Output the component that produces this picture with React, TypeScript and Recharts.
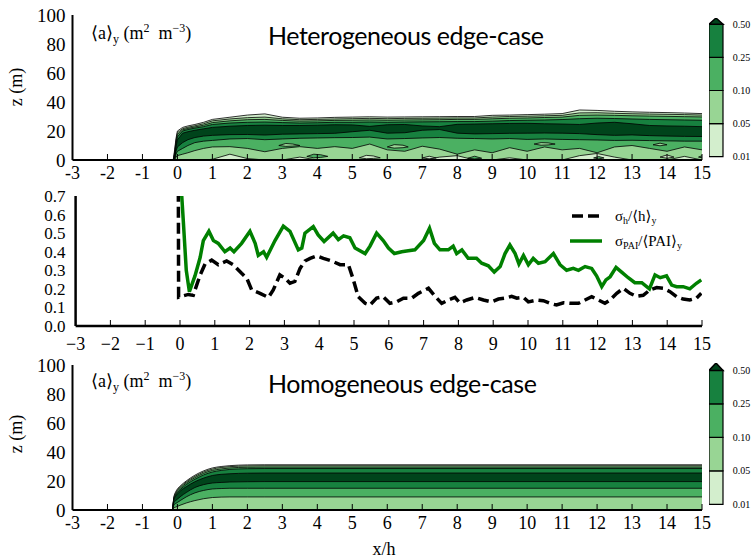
import React from 'react'
import { ComposedChart, Area, Line, XAxis, YAxis, BarChart, Bar } from 'recharts'

// shared axis values
const xTicks = [-3, -2, -1, 0, 1, 2, 3, 4, 5, 6, 7, 8, 9, 10, 11, 12, 13, 14, 15]
const zTicks = [0, 20, 40, 60, 80, 100]
const ratioTicks = [0, 0.1, 0.2, 0.3, 0.4, 0.5, 0.6, 0.7]
const levelLabels = ['0.01', '0.05', '0.10', '0.25', '0.50']
const GREENS = ['#d3eecd', '#98d594', '#4bb062', '#17813f', '#00441b']

// heterogeneous canopy: contour boundaries (m) along x/h
const hetX = [-0.12, -0.08, -0.04, 0, 0.15, 0.3, 0.5, 0.75, 1, 1.5, 2, 2.5, 3, 3.5, 4, 4.5, 5, 5.5, 6, 6.5, 7, 7.5, 8, 8.5, 9, 9.5, 10, 10.5, 11, 11.5, 12, 12.5, 13, 13.5, 14, 14.5, 15]
const hetTop1 = [0, 7, 15, 20, 22.5, 23.5, 24.5, 26, 28, 29.5, 31, 31.8, 29.5, 28.8, 29, 29.4, 29.6, 29.8, 29.6, 29.7, 29.8, 29.9, 30, 30, 30.8, 31, 31.3, 31.6, 32, 34.5, 34.2, 33.6, 33.2, 32.9, 32.7, 32.4, 32]
const hetTop2 = [0, 5.5, 13.5, 18.8, 21.6, 22.6, 23.6, 25, 27, 28.3, 29.2, 29.6, 28.4, 27.8, 28, 28.3, 28.5, 28.7, 28.5, 28.7, 28.8, 28.9, 29, 29, 29.6, 30, 30.2, 30.5, 30.8, 32.5, 32.6, 32.2, 31.9, 31.7, 31.5, 31.3, 31]
const hetTop3 = [0, 4, 12, 17.5, 20.8, 21.8, 22.8, 24, 25.8, 27, 27.8, 28, 27.3, 26.8, 27, 27.3, 27.4, 27.6, 27.4, 27.6, 27.7, 27.8, 28, 28, 28.4, 28.8, 29, 29.3, 29.6, 30.8, 31, 30.8, 30.5, 30.3, 30.1, 29.9, 29.7]
const hetTop4 = [0, 3, 10.5, 16, 20, 21, 22, 23, 24.5, 25.5, 26, 26.2, 25.8, 25.5, 25.7, 26, 26, 26.2, 26, 26.2, 26.3, 26.4, 26.5, 26.5, 26.8, 27.2, 27.4, 27.6, 27.9, 28.5, 28.8, 28.6, 28.3, 28, 27.8, 27.6, 27.4]
const hetTop5 = [0, 2, 9, 14, 18.5, 19.5, 20.5, 21.5, 22.5, 23.3, 23.8, 24, 23.8, 23.8, 24, 24.3, 24.2, 23.2, 24.3, 24.5, 23.5, 23, 24.6, 24.8, 25, 25.2, 25.3, 25, 24.8, 24.5, 25.5, 26, 25, 23.8, 23.5, 23.3, 23]
const hetBot5 = [0, 1, 6, 9, 12, 14, 15.5, 16.5, 17, 17.5, 17.6, 17.2, 17.8, 18, 18.2, 18.4, 19.5, 20.5, 18.5, 18.8, 20.5, 21, 18.5, 18, 18.2, 18.4, 18.5, 18.6, 18.5, 18.2, 17.5, 17, 17.3, 16.8, 16.5, 16.3, 16.2]
const hetBot4 = [0, 0.5, 4, 6, 8, 10, 12, 13, 13.5, 14.5, 14.8, 14, 14.5, 15, 15.2, 15.4, 15.5, 15.8, 14.5, 14.8, 15.2, 15.5, 15, 14.8, 14.5, 14.8, 14.2, 14.5, 14.2, 14, 13.8, 13.5, 13.6, 13.4, 13.2, 13, 13]
const hetBot3 = [0, 0.3, 2, 3, 4, 5, 6.5, 8, 9, 9.2, 8, 5.7, 8, 9.2, 8, 9.2, 8, 11, 7, 6, 9.5, 7.5, 4, 7, 5, 8.5, 6, 9, 7, 8, 5, 9, 10, 8, 6, 9, 7]
const hetBot2 = [0, 0, 0, 0, 0, 0, 0, 0, 0.5, 4, 1, 0, 0, 2, 0, 0, 0, 0, 0, 0, 0, 2, 3, 0, 0, 1.5, 0, 0, 0, 3, 4.5, 2, 0, 0, 0, 2.5, 0]

// small closed patches inside the heterogeneous canopy: [x, lower z, upper z], null = gap
const patchesLight: ([number, number, number] | null)[] = [
  [2.9, 10, 10], [3.1, 9.4, 11.4], [3.3, 9.6, 11], [3.5, 10, 10], null,
  [6.0, 9, 9], [6.2, 8.2, 10.6], [6.45, 8.5, 10.2], [6.6, 9, 9], null,
  [10.2, 11, 11], [10.4, 10.2, 12], [10.6, 10.4, 11.8], [10.8, 11, 11], null,
  [13.6, 10.5, 10.5], [13.8, 9.8, 11.6], [14.0, 10.5, 10.5],
]
const patchesMid: ([number, number, number] | null)[] = [
  [3.7, 2.5, 2.5], [3.9, 1.5, 4], [4.1, 1.8, 3.6], [4.3, 2.5, 2.5], null,
  [8.3, 1.2, 1.2], [8.5, 0.8, 2.6], [8.7, 1.2, 1.2], null,
  [11.9, 1.4, 1.4], [12.05, 0.8, 2.4], [12.2, 1.4, 1.4], null,
  [14.9, 2, 2], [15, 1.5, 3],
]
const patchesPale: ([number, number, number] | null)[] = [
  [5.2, 1.5, 1.5], [5.4, 0.9, 3.2], [5.6, 1.1, 2.8], [5.8, 1.5, 1.5], null,
  [7.0, 1.4, 1.4], [7.2, 0.8, 2.6], [7.4, 1.4, 1.4], null,
  [13.8, 2, 2], [14.0, 1.2, 3.5], [14.2, 2, 2],
]

// homogeneous canopy
const homX = [-0.14, -0.1, -0.05, 0, 0.1, 0.25, 0.5, 0.75, 1, 1.25, 1.5, 2, 2.5, 15]
const homTop1 = [0, 9, 12.5, 14.5, 17, 20, 24, 27, 29, 30, 30.6, 31.1, 31.2, 31.2]
const homTop2 = [0, 8.5, 11.8, 13.8, 16.3, 19.3, 23.2, 26.2, 28.2, 29.3, 29.9, 30.4, 30.5, 30.5]
const homTop3 = [0, 8, 11, 13, 15.5, 18.5, 22.3, 25.3, 27.3, 28.3, 29, 29.5, 29.6, 29.6]
const homTop4 = [0, 7.5, 10.2, 12, 14.5, 17.5, 21.2, 24.2, 26.2, 27.3, 28, 28.5, 28.6, 28.6]
const homTop5 = [0, 7, 9.5, 11, 13.5, 16, 19.5, 22, 23.8, 24.6, 25, 25.4, 25.5, 25.5]
const homBot5 = [0, 5, 6.5, 7.5, 9.5, 12, 15.5, 17.5, 18.6, 19, 19.3, 19.5, 19.6, 19.6]
const homBot4 = [0, 3.5, 4.5, 5.2, 6.8, 9, 11.8, 13.5, 14.5, 14.8, 15, 15, 15, 15]
const homBot3 = [0, 1.5, 2, 2.5, 3.5, 4.8, 6.5, 7.8, 8.6, 8.9, 9, 9, 9, 9]
const homBot2 = [0, 0, 0, 0, 0, 0, 0, 0, 0, 0, 0, 0, 0, 0]

// sigma_h / <h>_y
const hX = [-0.05, -0.04, 0.24, 0.38, 0.57, 0.72, 0.91, 1.1, 1.34, 1.53, 1.77, 1.92, 2.06, 2.3, 2.54, 2.68, 2.87, 3.02, 3.16, 3.3, 3.45, 3.59, 3.74, 3.93, 4.12, 4.36, 4.6, 4.84, 4.98, 5.12, 5.32, 5.46, 5.65, 5.84, 6.03, 6.22, 6.42, 6.66, 6.85, 7.14, 7.33, 7.52, 7.71, 7.9, 8.04, 8.24, 8.48, 8.72, 8.95, 9.15, 9.34, 9.53, 9.68, 9.87, 10.01, 10.25, 10.44, 10.63, 10.82, 11.02, 11.21, 11.45, 11.64, 11.83, 12.02, 12.21, 12.36, 12.55, 12.74, 12.93, 13.12, 13.31, 13.5, 13.7, 13.89, 14.08, 14.27, 14.46, 14.65, 14.84, 14.98]
const hY = [0.9, 0.155, 0.17, 0.165, 0.27, 0.334, 0.355, 0.33, 0.35, 0.33, 0.284, 0.257, 0.194, 0.176, 0.154, 0.194, 0.275, 0.257, 0.23, 0.24, 0.31, 0.35, 0.364, 0.377, 0.364, 0.35, 0.33, 0.33, 0.25, 0.158, 0.122, 0.113, 0.15, 0.158, 0.122, 0.13, 0.15, 0.15, 0.176, 0.203, 0.16, 0.122, 0.14, 0.154, 0.125, 0.14, 0.154, 0.14, 0.13, 0.145, 0.15, 0.16, 0.15, 0.154, 0.13, 0.14, 0.136, 0.122, 0.113, 0.125, 0.122, 0.122, 0.14, 0.158, 0.14, 0.122, 0.14, 0.176, 0.203, 0.176, 0.16, 0.165, 0.194, 0.207, 0.203, 0.185, 0.158, 0.145, 0.14, 0.15, 0.176]

// sigma_PAI / <PAI>_y
const pX = [0.0, 0.1, 0.18, 0.27, 0.43, 0.58, 0.67, 0.83, 0.96, 1.1, 1.29, 1.44, 1.55, 1.77, 2.01, 2.16, 2.25, 2.4, 2.49, 2.73, 2.97, 3.16, 3.4, 3.5, 3.59, 3.83, 3.97, 4.14, 4.4, 4.55, 4.7, 4.88, 5.03, 5.32, 5.46, 5.65, 5.84, 5.99, 6.16, 6.37, 6.56, 6.75, 7.0, 7.17, 7.31, 7.47, 7.71, 7.85, 7.95, 8.1, 8.28, 8.52, 8.67, 8.86, 9.03, 9.2, 9.34, 9.48, 9.63, 9.74, 9.87, 10.01, 10.15, 10.3, 10.49, 10.73, 10.92, 11.11, 11.3, 11.45, 11.64, 11.83, 11.97, 12.12, 12.24, 12.36, 12.53, 12.69, 12.88, 13.07, 13.27, 13.49, 13.65, 13.8, 13.98, 14.13, 14.27, 14.46, 14.65, 14.84, 14.98]
const pY = [0.85, 0.55, 0.3, 0.185, 0.27, 0.37, 0.46, 0.51, 0.46, 0.445, 0.4, 0.42, 0.4, 0.445, 0.51, 0.445, 0.38, 0.4, 0.37, 0.46, 0.538, 0.51, 0.41, 0.42, 0.5, 0.535, 0.49, 0.455, 0.5, 0.465, 0.485, 0.475, 0.42, 0.39, 0.43, 0.5, 0.46, 0.42, 0.39, 0.4, 0.405, 0.41, 0.46, 0.526, 0.445, 0.41, 0.41, 0.43, 0.39, 0.41, 0.365, 0.365, 0.338, 0.324, 0.29, 0.32, 0.39, 0.436, 0.39, 0.334, 0.38, 0.33, 0.364, 0.338, 0.346, 0.39, 0.33, 0.3, 0.31, 0.3, 0.32, 0.31, 0.27, 0.212, 0.248, 0.265, 0.316, 0.29, 0.26, 0.233, 0.233, 0.2, 0.275, 0.26, 0.27, 0.22, 0.212, 0.212, 0.2, 0.23, 0.248]

const SERIF = '"Liberation Serif", "DejaVu Serif", serif'
const SANS = 'Lato, "Open Sans", sans-serif'
const frame = { stroke: '#000', strokeWidth: 2 }
const tickStyle = { stroke: '#000', strokeWidth: 1 }

const hetRows = hetX.map((x, i) => ({
  x, t1: hetTop1[i], t2: hetTop2[i], t3: hetTop3[i], t4: hetTop4[i], t5: hetTop5[i],
  b2: hetBot2[i], b3: hetBot3[i], b4: hetBot4[i], b5: hetBot5[i],
}))
const homRows = homX.map((x, i) => ({
  x, t1: homTop1[i], t2: homTop2[i], t3: homTop3[i], t4: homTop4[i], t5: homTop5[i],
  b2: homBot2[i], b3: homBot3[i], b4: homBot4[i], b5: homBot5[i],
}))
const toPatchRows = (p: ([number, number, number] | null)[]) =>
  p.map((e, i) => (e ? { x: e[0], lo: e[1], hi: e[2] } : { x: (p[i - 1] as number[])[0] + 0.05, lo: null, hi: null }))
const hetPatches = [
  { rows: toPatchRows(patchesLight), fill: GREENS[1] },
  { rows: toPatchRows(patchesMid), fill: GREENS[2] },
  { rows: toPatchRows(patchesPale), fill: GREENS[0] },
]
const hRows = hX.map((x, i) => ({ x, y: hY[i] }))
const pRows = pX.map((x, i) => ({ x, y: pY[i] }))

// [lower, upper] keys for each filled band, painted outside-in
const bands: [string | null, string][] = [
  [null, 't1'], ['b2', 't2'], ['b3', 't3'], ['b4', 't4'], ['b5', 't5'],
]

function ContourChart({ rows, curve, patches = [] }: { rows: any[]; curve: 'linear' | 'monotone'; patches?: any[] }) {
  return (
    <ComposedChart width={753} height={200} data={rows} margin={{ top: 15, right: 51, bottom: 0, left: 0 }}>
      <XAxis dataKey="x" type="number" domain={[-3, 15]} ticks={xTicks} interval={0} allowDataOverflow
        height={40} tickSize={-6} tickMargin={12} axisLine={frame} tickLine={tickStyle}
        tick={{ fill: '#000', fontSize: 18, fontFamily: SERIF }} />
      <XAxis xAxisId="top" orientation="top" type="number" domain={[-3, 15]} ticks={xTicks} interval={0}
        allowDataOverflow height={0} tickSize={-6} tick={false} axisLine={frame} tickLine={tickStyle} />
      <YAxis type="number" domain={[0, 100]} ticks={zTicks} interval={0} allowDataOverflow width={72.5}
        tickLine={false} tickSize={0} tickMargin={7} axisLine={frame}
        tick={{ fill: '#000', fontSize: 19, fontFamily: SERIF }} />
      <YAxis yAxisId="right" orientation="right" type="number" domain={[0, 100]} ticks={[20, 40, 60, 80]}
        interval={0} width={0} tickSize={-6} tick={false} axisLine={frame} tickLine={tickStyle} />
      {bands.map(([lo, hi], i) => (
        <Area key={hi} type={curve} dataKey={(d: any) => [lo ? d[lo] : 0, d[hi]]}
          fill={GREENS[i]} fillOpacity={1} stroke="#000" strokeWidth={0.8}
          dot={false} activeDot={false} isAnimationActive={false} />
      ))}
      {patches.map((p, i) => (
        <Area key={`p${i}`} data={p.rows} type="linear" connectNulls={false}
          dataKey={(d: any) => (d.lo == null ? null : [d.lo, d.hi])}
          fill={p.fill} fillOpacity={1} stroke="#000" strokeWidth={0.8}
          dot={false} activeDot={false} isAnimationActive={false} />
      ))}
    </ComposedChart>
  )
}

function Triangle(props: any) {
  const { x, y, width, height, fill } = props
  return <path d={`M${x},${y + height}L${x + width / 2},${y}L${x + width},${y + height}Z`} fill={fill} stroke="#000" strokeWidth={1.5} />
}

function ColorBar({ height, ext }: { height: number; ext: number }) {
  const row = [{ name: 'cb', s0: 1, s1: 1, s2: 1, s3: 1, ext }]
  return (
    <BarChart width={53.7} height={height + 8} data={row} margin={{ top: 0, right: 0, bottom: 8, left: 0 }} barCategoryGap={0}>
      <XAxis dataKey="name" hide />
      <YAxis orientation="right" type="number" domain={[0, 4 + ext]} ticks={[0, 1, 2, 3, 4]} interval={0}
        width={40} axisLine={false} tickLine={false} tickSize={0} tickMargin={10}
        tickFormatter={(v: number) => levelLabels[v]} tick={{ fill: '#000', fontSize: 10, fontFamily: SERIF }} />
      {[0, 1, 2, 3].map((i) => (
        <Bar key={i} dataKey={`s${i}`} stackId="cb" fill={GREENS[i]} stroke="#000" strokeWidth={1.2} isAnimationActive={false} />
      ))}
      <Bar dataKey="ext" stackId="cb" fill={GREENS[4]} shape={Triangle} isAnimationActive={false} />
    </BarChart>
  )
}

function RatioChart() {
  const thick = { stroke: '#000', strokeWidth: 2.5 }
  return (
    <ComposedChart width={753} height={180} margin={{ top: 16, right: 51, bottom: 0, left: 0 }}>
      <XAxis dataKey="x" type="number" domain={[-3, 15]} ticks={xTicks} interval={0} allowDataOverflow
        height={34} tickSize={-6} tickMargin={17} axisLine={thick} tickLine={tickStyle}
        tickFormatter={(v: number) => String(v).replace('-', '\u2212')}
        tick={{ fill: '#000', fontSize: 18, fontFamily: SERIF }} />
      <XAxis xAxisId="top" orientation="top" type="number" domain={[-3, 15]} ticks={xTicks} interval={0}
        allowDataOverflow height={0} tickSize={-6} tick={false} axisLine={thick} tickLine={tickStyle} />
      <YAxis type="number" domain={[0, 0.7]} ticks={ratioTicks} interval={0} allowDataOverflow width={75.6}
        tickLine={false} tickSize={0} tickMargin={10} axisLine={thick}
        tickFormatter={(v: number) => v.toFixed(1)}
        tick={{ fill: '#000', fontSize: 17, fontFamily: SERIF }} />
      <YAxis yAxisId="right" orientation="right" type="number" domain={[0, 0.7]} ticks={[0.1, 0.2, 0.3, 0.4, 0.5, 0.6]}
        interval={0} width={0} tickSize={-6} tick={false} axisLine={thick} tickLine={tickStyle} />
      <Line data={hRows} dataKey="y" type="linear" stroke="#000" strokeWidth={3.5} strokeDasharray="11 5"
        dot={false} activeDot={false} isAnimationActive={false} />
      <Line data={pRows} dataKey="y" type="linear" stroke="#008000" strokeWidth={3.5}
        dot={false} activeDot={false} isAnimationActive={false} />
    </ComposedChart>
  )
}

function Annotations() {
  const t = { fontFamily: SERIF, fill: '#000' }
  const aLabel = (y: number) => (
    <text x={91} y={y} fontSize={18} {...t}>
      {'\u27e8a\u27e9'}<tspan dy={4} fontSize={12}>y</tspan>
      <tspan dy={-4}>{'\u00a0(m'}</tspan><tspan dy={-7} fontSize={12}>2</tspan>
      <tspan dy={7}>{'\u00a0\u00a0m'}</tspan><tspan dy={-7} fontSize={12}>{'\u22123'}</tspan>
      <tspan dy={7}>)</tspan>
    </text>
  )
  return (
    <svg width={753} height={558} style={{ position: 'absolute', left: 0, top: 0, pointerEvents: 'none' }}>
      {aLabel(39)}
      {aLabel(387)}
      <text x={268} y={45} fontSize={25} fontFamily={SANS} textLength={276} lengthAdjust="spacing">Heterogeneous edge-case</text>
      <text x={268} y={393} fontSize={25} fontFamily={SANS} textLength={269} lengthAdjust="spacing">Homogeneous edge-case</text>
      <text transform="translate(22,87) rotate(-90)" textAnchor="middle" fontSize={18} {...t}>z (m)</text>
      <text transform="translate(22,434) rotate(-90)" textAnchor="middle" fontSize={18} {...t}>z (m)</text>
      <text x={384} y={555} textAnchor="middle" fontSize={18} {...t}>x/h</text>
      {/* legend of the middle panel */}
      <line x1={572} x2={601} y1={216} y2={216} stroke="#000" strokeWidth={3.5} strokeDasharray="11 5" />
      <text x={615} y={221} fontSize={15} {...t}>
        {'\u03c3'}<tspan dy={3} fontSize={10}>h</tspan><tspan dy={-3}>{'/\u27e8h\u27e9'}</tspan><tspan dy={3} fontSize={10}>y</tspan>
      </text>
      <line x1={570} x2={602} y1={241} y2={241} stroke="#008000" strokeWidth={3.5} />
      <text x={615} y={246} fontSize={15} {...t}>
        {'\u03c3'}<tspan dy={3} fontSize={10}>PAI</tspan><tspan dy={-3}>{'/\u27e8PAI\u27e9'}</tspan><tspan dy={3} fontSize={10}>y</tspan>
      </text>
    </svg>
  )
}

export default function App() {
  return (
    <div style={{ position: 'absolute', left: 0, top: 0, width: 753, height: 558, background: '#fff', overflow: 'hidden' }}>
      <div style={{ position: 'absolute', left: 0, top: 0 }}>
        <ContourChart rows={hetRows} curve="linear" patches={hetPatches} />
      </div>
      <div style={{ position: 'absolute', left: 709, top: 18 }}>
        <ColorBar height={138.7} ext={0.19} />
      </div>
      <div style={{ position: 'absolute', left: 0, top: 180 }}>
        <RatioChart />
      </div>
      <div style={{ position: 'absolute', left: 0, top: 350 }}>
        <ContourChart rows={homRows} curve="monotone" />
      </div>
      <div style={{ position: 'absolute', left: 709, top: 362.7 }}>
        <ColorBar height={141.3} ext={0.22} />
      </div>
      <Annotations />
    </div>
  )
}
